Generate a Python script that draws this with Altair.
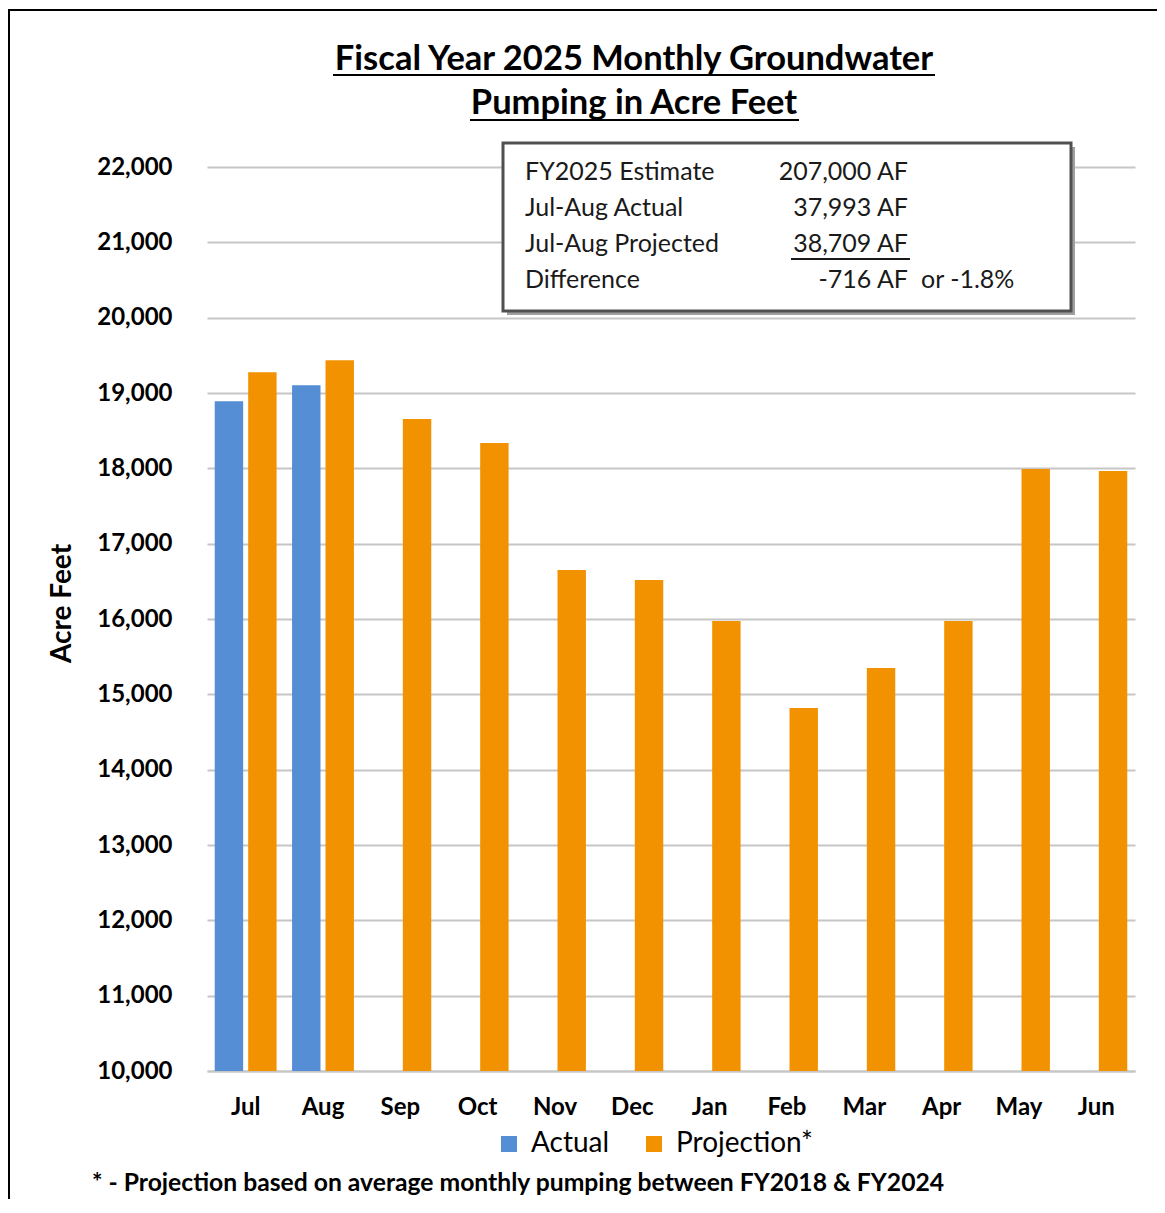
import altair as alt
import pandas as pd

# ---------------- data ----------------
months = ["Jul", "Aug", "Sep", "Oct", "Nov", "Dec", "Jan", "Feb", "Mar", "Apr", "May", "Jun"]
actual = [18890, 19103]
projection = [19275, 19434, 18655, 18336, 16650, 16517, 15973, 14818, 15349, 15973, 17991, 17964]
series = ["Actual", "Projection*"]
y_ticks = [10000, 11000, 12000, 13000, 14000, 15000, 16000, 17000, 18000, 19000, 20000, 21000, 22000]

title_lines = ["Fiscal Year 2025 Monthly Groundwater", "Pumping in Acre Feet"]
box_labels = ["FY2025 Estimate", "Jul-Aug Actual", "Jul-Aug Projected", "Difference"]
box_values = ["207,000 AF", "37,993 AF", "38,709 AF", "-716 AF"]
box_extra = "or -1.8%"
footnote = "* - Projection based on average monthly pumping between FY2018 & FY2024"

rows = [{"month": m, "series": "Actual", "value": v} for m, v in zip(months, actual)]
rows += [{"month": m, "series": "Projection*", "value": v} for m, v in zip(months, projection)]
df = pd.DataFrame(rows)

FONT = "Lato"
W, H = 928, 904
GRID = "#c6c6c6"

bars = alt.Chart(df).mark_bar().encode(
    x=alt.X(
        "month:N", sort=months,
        scale=alt.Scale(paddingInner=0.2, paddingOuter=0.1),
        axis=alt.Axis(title=None, labelAngle=0, labelFont=FONT, labelFontSize=24,
                      labelFontWeight="bold", labelColor="black", labelPadding=24,
                      ticks=False, domainColor=GRID, domainWidth=2, grid=False),
    ),
    xOffset=alt.XOffset("series:N", sort=series, scale=alt.Scale(paddingInner=0.15)),
    y=alt.Y(
        "value:Q",
        scale=alt.Scale(domain=[10000, 22000], zero=False, nice=False),
        axis=alt.Axis(values=y_ticks, format=",d", title="Acre Feet",
                      titleFont=FONT, titleFontSize=28, titleFontWeight="bold",
                      titleColor="black", titleAngle=270, titleX=-145, titleY=436,
                      titleAlign="center", titleBaseline="middle",
                      labelFont=FONT, labelFontSize=24, labelFontWeight="bold",
                      labelColor="black", labelPadding=35, ticks=False, domain=False,
                      grid=True, gridColor=GRID, gridWidth=2),
    ),
    y2=alt.datum(10000),
    color=alt.Color(
        "series:N", sort=series,
        scale=alt.Scale(domain=series, range=["#558ED5", "#F39200"]),
        legend=alt.Legend(title=None, orient="none", legendX=288, legendY=963,
                          direction="horizontal", symbolType="square", symbolSize=256,
                          symbolStrokeWidth=0, labelFont=FONT, labelFontSize=28,
                          labelColor="black", columnPadding=30, labelOffset=8, padding=0),
    ),
)


def text_layer(txt, x, y, size, weight="normal", align="left", baseline="middle", color="black"):
    return alt.Chart(pd.DataFrame({"t": [txt]})).mark_text(
        font=FONT, fontSize=size, fontWeight=weight, align=align, baseline=baseline, color=color
    ).encode(text="t:N", x=alt.value(x), y=alt.value(y))


def rule_layer(x1, x2, y, width=2, color="black"):
    return alt.Chart(pd.DataFrame({"a": [0]})).mark_rule(color=color, strokeWidth=width).encode(
        x=alt.value(x1), x2=alt.value(x2), y=alt.value(y)
    )


def rect_layer(x1, x2, y1, y2, **kw):
    return alt.Chart(pd.DataFrame({"a": [0]})).mark_rect(**kw).encode(
        x=alt.value(x1), x2=alt.value(x2), y=alt.value(y1), y2=alt.value(y2)
    )


layers = [bars]

# title with underline
layers.append(text_layer(title_lines[0], 427, -97, 34.5, "bold", "center", "alphabetic"))
layers.append(text_layer(title_lines[1], 427, -53, 34.5, "bold", "center", "alphabetic"))
layers.append(rule_layer(126, 728, -92))
layers.append(rule_layer(263, 592, -47))

# summary box
layers.append(rect_layer(300, 868, -20, 148, fill="#a0a0a0"))
layers.append(rect_layer(296, 864, -24, 144, fill="white", stroke="#505050", strokeWidth=3))
row_y = [5, 41, 77, 113]
for lab, val, yy in zip(box_labels, box_values, row_y):
    layers.append(text_layer(lab, 318, yy, 25, color="#1a1a1a"))
    layers.append(text_layer(val, 701, yy, 25, align="right", color="#1a1a1a"))
layers.append(text_layer(box_extra, 714, row_y[3], 25, color="#1a1a1a"))
layers.append(rule_layer(584, 703, 92, width=2, color="#1a1a1a"))

# footnote
layers.append(text_layer(footnote, -115, 1017, 24.7, "bold"))

# outer frame
layers.append(rect_layer(-198, 1000, -157, 1200, fillOpacity=0, stroke="black", strokeWidth=2))

chart = alt.layer(*layers).properties(
    width=W, height=H,
    autosize=alt.AutoSizeParams(type="none"),
    padding={"left": 199, "top": 159, "right": 22, "bottom": 128},
    background="white",
).configure_view(stroke=None)

chart.save("out.html", embed_options={"renderer": "svg", "actions": False})
